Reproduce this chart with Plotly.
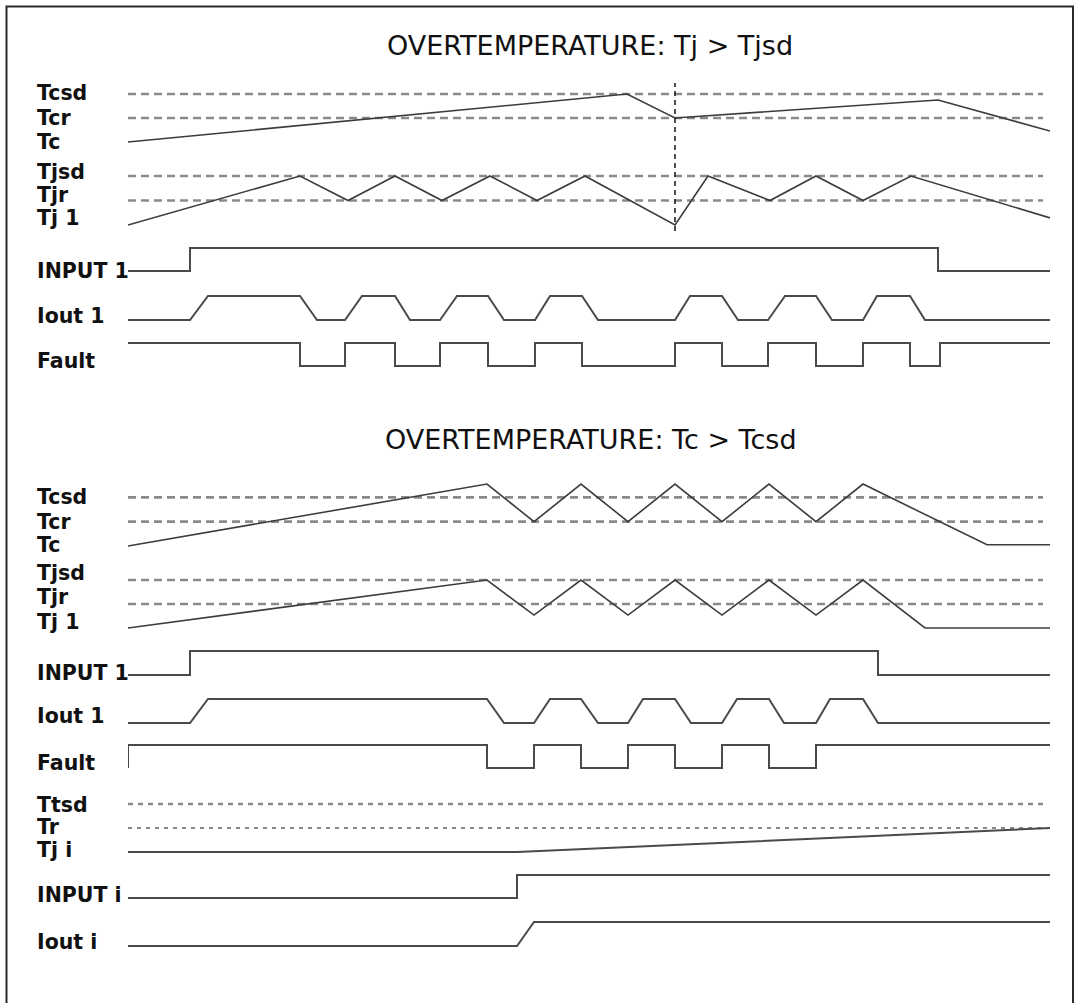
import plotly.graph_objects as go

W, H = 1080, 1003

# ---------------- data (time in diagram units, levels in signal units) ----------------
# Section 1: OVERTEMPERATURE Tj > Tjsd
S1_TC_T = [0, 499, 547, 810, 922]
S1_TC_V = [0, 2, 1, 1.75, 0.46]
S1_TJ_T = [0, 172, 220, 267, 314, 362, 409, 457, 547, 580, 642, 688, 735, 783, 922]
S1_TJ_V = [0, 2, 1, 2, 1, 2, 1, 2, 0, 2, 1, 2, 1, 2, 0.29]
S1_IN_T = [0, 62, 810, 922]
S1_IN_V = [0, 1, 0, 0]
S1_IO_T = [0, 62, 80, 172, 189, 217, 234, 267, 282, 312, 329, 360, 376, 407, 422, 454, 470,
           547, 562, 594, 610, 640, 657, 688, 704, 735, 749, 782, 797, 922]
S1_IO_V = [0, 0, 1, 1, 0, 0, 1, 1, 0, 0, 1, 1, 0, 0, 1, 1, 0,
           0, 1, 1, 0, 0, 1, 1, 0, 0, 1, 1, 0, 0]
S1_FA_T = [0, 172, 217, 267, 312, 360, 407, 454, 547, 594, 640, 688, 735, 782, 812, 922]
S1_FA_V = [1, 0, 1, 0, 1, 0, 1, 0, 1, 0, 1, 0, 1, 0, 1, 1]
S1_EVENT_T = 547

# Section 2: OVERTEMPERATURE Tc > Tcsd
S2_TC_T = [0, 359, 406, 453, 500, 547, 594, 641, 688, 735, 859, 922]
S2_TC_V = [0, 2.55, 1, 2.55, 1, 2.55, 1, 2.55, 1, 2.55, 0.05, 0.05]
S2_TJ_T = [0, 359, 406, 453, 500, 547, 594, 641, 688, 735, 797, 922]
S2_TJ_V = [0, 2, 0.54, 2, 0.54, 2, 0.54, 2, 0.54, 2, 0, 0]
S2_IN_T = [0, 62, 750, 922]
S2_IN_V = [0, 1, 0, 0]
S2_IO_T = [0, 62, 80, 359, 376, 406, 422, 453, 470, 500, 515, 547, 563, 594, 609,
           641, 656, 688, 702, 735, 750, 922]
S2_IO_V = [0, 0, 1, 1, 0, 0, 1, 1, 0, 0, 1, 1, 0, 0, 1, 1, 0, 0, 1, 1, 0, 0]
S2_FA_T = [0, 0, 359, 406, 453, 500, 547, 594, 641, 688, 922]
S2_FA_V = [0, 1, 0, 1, 0, 1, 0, 1, 0, 1, 1]

# Section 3: other channel i
S3_TJ_T = [0, 389, 922]
S3_TJ_V = [0, 0, 1]
S3_IN_T = [0, 389, 922]
S3_IN_V = [0, 1, 1]
S3_IO_T = [0, 389, 406, 922]
S3_IO_V = [0, 0, 1, 1]

THRESH_HI = 2
THRESH_LO = 1
THRESH_T = [0, 915]

TITLES = ["OVERTEMPERATURE: Tj > Tjsd", "OVERTEMPERATURE: Tc > Tcsd"]
LABELS = ["Tcsd", "Tcr", "Tc", "Tjsd", "Tjr", "Tj 1", "INPUT 1", "Iout 1", "Fault",
          "Tcsd", "Tcr", "Tc", "Tjsd", "Tjr", "Tj 1", "INPUT 1", "Iout 1", "Fault",
          "Ttsd", "Tr", "Tj i", "INPUT i", "Iout i"]

# ---------------- layout geometry (pixels) ----------------
# row: (baseline px for level 0, px per unit)
ROWS = [(142, 24), (225, 24.5), (271, 23), (320, 24), (366, 23),
        (546, 24.3), (628, 24), (675, 24), (723, 24), (768, 23),
        (852, 24), (898, 23), (946, 24)]
LABEL_Y = [93, 118, 142, 172, 195, 218, 271, 316, 361,
           497, 521.5, 545, 573, 597, 621.5, 673, 715.5, 763,
           805, 827, 850, 895, 942]
TITLE_Y = [45, 440]
TITLE_X = [590, 591]
LABEL_X = 35
X0_PX, X1_PX = 128, 1050
EVENT_Y_PX = (83, 231)

SIG_COLOR = "#3c3c3c"
DIG_COLOR = "#4a4a4a"
DASH_COLOR = "#8a8a8a"


def yf(p):
    return 1 - p / H


fig = go.Figure()
layout_axes = {}
LO, HI = -1.0, 3.0
for i, (base, unit) in enumerate(ROWS, start=1):
    key = "yaxis" if i == 1 else f"yaxis{i}"
    d0 = yf(base - LO * unit)
    d1 = yf(base - HI * unit)
    layout_axes[key] = dict(domain=[d0, d1], range=[LO, HI], visible=False,
                            fixedrange=True, anchor="x")


def yname(row):
    return "y" if row == 1 else f"y{row}"


def add(row, t, v, shape="linear", color=SIG_COLOR, width=1.6, dash="solid"):
    fig.add_trace(go.Scatter(x=t, y=v, mode="lines", yaxis=yname(row), xaxis="x",
                             line=dict(color=color, width=width, dash=dash, shape=shape,
                                       simplify=False),
                             cliponaxis=False, hoverinfo="skip", showlegend=False))


BIG_DASH = "8px,5px"
SMALL_DASH = "5px,5px"

# thresholds
for row in (1, 2, 6, 7):
    add(row, THRESH_T, [THRESH_HI, THRESH_HI], color=DASH_COLOR, width=2.7, dash=BIG_DASH)
    add(row, THRESH_T, [THRESH_LO, THRESH_LO], color=DASH_COLOR, width=2.7, dash=BIG_DASH)
add(11, THRESH_T, [THRESH_HI, THRESH_HI], color=DASH_COLOR, width=2.4, dash=SMALL_DASH)
add(11, THRESH_T, [THRESH_LO, THRESH_LO], color=DASH_COLOR, width=2.0, dash="4px,5px")

# temperature signals
add(1, S1_TC_T, S1_TC_V)
add(2, S1_TJ_T, S1_TJ_V)
add(6, S2_TC_T, S2_TC_V)
add(7, S2_TJ_T, S2_TJ_V)
add(11, S3_TJ_T, S3_TJ_V, color=DIG_COLOR, width=2)

# digital signals
add(3, S1_IN_T, S1_IN_V, shape="hv", color=DIG_COLOR, width=2)
add(4, S1_IO_T, S1_IO_V, color=DIG_COLOR, width=2)
add(5, S1_FA_T, S1_FA_V, shape="hv", color=DIG_COLOR, width=2)
add(8, S2_IN_T, S2_IN_V, shape="hv", color=DIG_COLOR, width=2)
add(9, S2_IO_T, S2_IO_V, color=DIG_COLOR, width=2)
add(10, S2_FA_T, S2_FA_V, shape="hv", color=DIG_COLOR, width=2)
add(12, S3_IN_T, S3_IN_V, shape="hv", color=DIG_COLOR, width=2)
add(13, S3_IO_T, S3_IO_V, color=DIG_COLOR, width=2)

shapes = [
    dict(type="line", xref="x", yref="paper", x0=S1_EVENT_T, x1=S1_EVENT_T,
         y0=yf(EVENT_Y_PX[1]), y1=yf(EVENT_Y_PX[0]),
         line=dict(color="#222222", width=1.6, dash="5px,4px")),
    dict(type="rect", xref="paper", yref="paper", x0=6.5 / W, x1=1073 / W,
         y0=-0.05, y1=yf(6.5), line=dict(color="#2a2a2a", width=2), fillcolor="rgba(0,0,0,0)"),
]

annotations = []
for txt, y in zip(LABELS, LABEL_Y):
    annotations.append(dict(text=txt, x=LABEL_X / W, y=yf(y), xref="paper", yref="paper",
                            xanchor="left", yanchor="middle", showarrow=False,
                            font=dict(family="DejaVu Sans", size=20.5, color="#111111",
                                      weight="bold")))
for txt, x, y in zip(TITLES, TITLE_X, TITLE_Y):
    annotations.append(dict(text=txt, x=x / W, y=yf(y), xref="paper", yref="paper",
                            xanchor="center", yanchor="middle", showarrow=False,
                            font=dict(family="DejaVu Sans", size=27, color="#111111")))

fig.update_layout(
    width=W, height=H,
    margin=dict(l=0, r=0, t=0, b=0),
    paper_bgcolor="white", plot_bgcolor="rgba(0,0,0,0)",
    showlegend=False,
    xaxis=dict(domain=[X0_PX / W, X1_PX / W], range=[0, X1_PX - X0_PX], visible=False,
               fixedrange=True),
    shapes=shapes,
    annotations=annotations,
    **layout_axes,
)

fig.write_html("out.html", config={"displayModeBar": False},
               post_script="document.body.style.margin='0';document.body.style.overflow='hidden';")
